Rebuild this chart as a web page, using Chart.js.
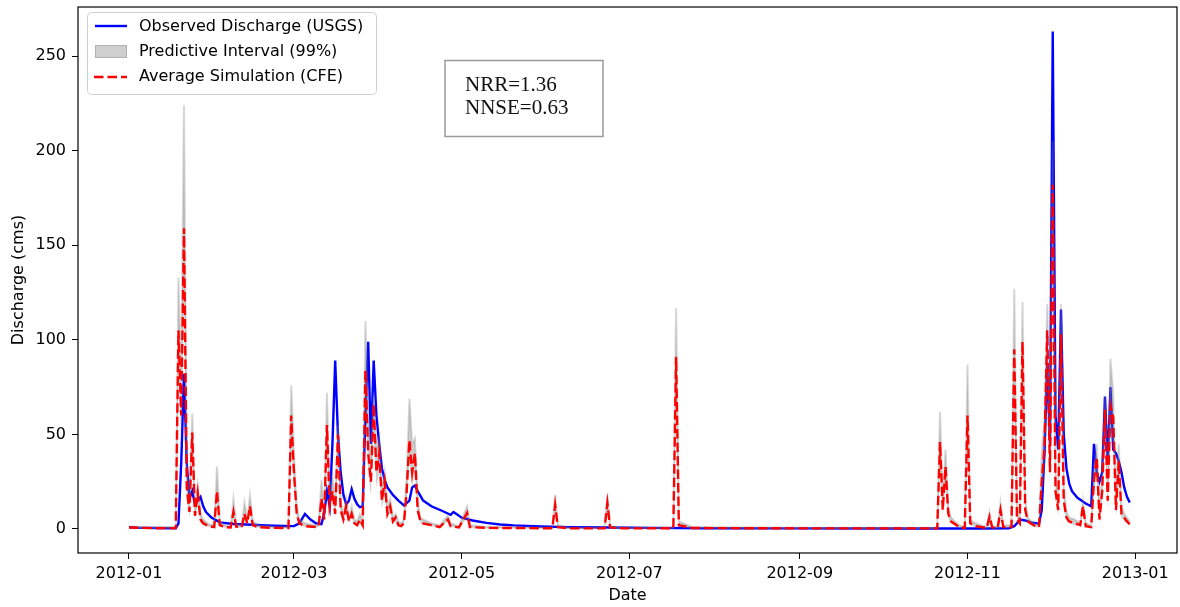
<!DOCTYPE html>
<html lang="en">
<head>
<meta charset="UTF-8">
<title>Observed vs simulated discharge 2012</title>
<script src="https://cdn.jsdelivr.net/npm/chart.js"></script>
<style>
  html, body { margin: 0; padding: 0; background: #fff; }
  #wrap { position: relative; width: 1180px; height: 607px; }
</style>
</head>
<body>
<div id="wrap"><canvas id="chart" width="1180" height="607"></canvas></div>
<script>
  // x values are days since 2012-01-01
  const tickDays = [0, 60, 121, 182, 244, 305, 366];
  const tickLabels = ['2012-01', '2012-03', '2012-05', '2012-07', '2012-09', '2012-11', '2013-01'];
  const yTicks = [0, 50, 100, 150, 200, 250];

  // observed discharge (USGS), cms
  const obsDays = [0, 3, 10, 17, 18, 19, 20, 21, 22, 23, 24, 25, 26, 27, 28, 30, 33, 38, 45, 50, 56, 60, 62, 64, 66, 68, 70, 71, 72, 73, 74, 75, 76, 77, 78, 79, 80, 81, 82, 83, 84, 85, 86, 87, 88, 89, 90, 91, 92, 93, 94, 96, 98, 100, 102, 103, 104, 105, 107, 110, 114, 117, 118, 119, 121, 125, 130, 135, 140, 150, 160, 175, 190, 210, 240, 280, 310, 320, 322, 323, 324, 326, 328, 331, 332, 333, 334, 335, 336, 337, 338, 339, 340, 341, 342, 343, 345, 348, 350, 351, 352, 353, 354, 355, 356, 357, 358, 359, 360, 361, 362, 363, 364];
  const obsVals = [1.0, 0.7, 0.5, 0.4, 3, 35, 82, 35, 16, 20, 13, 15, 17, 12, 9, 6, 3.5, 2.6, 2.2, 1.9, 1.6, 1.5, 3, 8, 5, 3, 2.5, 8, 20, 12, 45, 89, 50, 30, 18, 13, 15, 21, 16, 13, 11.5, 12, 60, 99, 45, 89, 60, 45, 32, 26, 22, 18, 15, 12.5, 15, 22, 23, 20, 15, 12, 9.5, 7.5, 9, 8, 6, 4.5, 3.2, 2.4, 1.9, 1.3, 1.0, 0.8, 0.6, 0.4, 0.3, 0.25, 0.25, 0.3, 1.5, 3, 5, 4.5, 3.5, 2.8, 10, 40, 88, 45, 263, 60, 42, 116, 50, 32, 24, 20, 16.5, 13.5, 12, 45, 30, 25, 30, 70, 35, 75, 42, 40, 36, 30, 22, 17, 14];

  // average simulation (CFE) and 99% predictive interval
  const simDays = [0, 5, 10, 17, 18, 19, 20, 21, 22, 23, 24, 25, 26, 27, 29, 31, 32, 33, 35, 37, 38, 39, 41, 42, 43, 44, 45, 47, 52, 58, 59, 60, 61, 62, 64, 68, 69, 70, 71, 72, 73, 74, 75, 76, 77, 78, 79, 80, 81, 82, 83, 84, 85, 86, 87, 88, 89, 90, 91, 92, 93, 94, 95, 96, 97, 98, 99, 100, 101, 102, 103, 104, 105, 106, 107, 110, 113, 116, 117, 120, 123, 124, 130, 150, 154, 155, 156, 160, 173, 174, 175, 180, 198, 199, 200, 205, 250, 294, 295, 296, 297, 298, 299, 302, 304, 305, 306, 308, 312, 313, 314, 316, 317, 318, 321, 322, 323, 324, 325, 326, 327, 329, 331, 332, 333, 334, 335, 336, 337, 338, 339, 340, 341, 342, 344, 346, 347, 348, 350, 351, 352, 353, 354, 355, 356, 357, 358, 359, 360, 361, 362, 363, 364];
  const simMean = [0.8, 0.6, 0.4, 0.5, 105, 60, 159, 22, 9, 51, 7, 19, 5, 3, 1.5, 1, 20, 2, 1, 0.8, 9, 1.2, 0.9, 8, 3, 12, 2, 1, 0.6, 0.5, 60, 30, 8, 3, 1.5, 1, 1.5, 16, 5, 55, 12, 20, 8, 50, 10, 5, 12, 4, 8, 3, 2, 5, 2, 84, 40, 25, 66, 30, 40, 15, 25, 8, 12, 4, 6, 2, 1.5, 3, 20, 47, 30, 40, 10, 4, 3, 2, 1, 5, 1.5, 0.8, 8.5, 1, 0.6, 0.4, 0.4, 12.7, 1, 0.3, 0.3, 13.7, 0.8, 0.3, 0.4, 91, 2, 0.5, 0.3, 0.3, 46, 10, 33, 8, 4, 1, 0.5, 60, 3, 1.5, 0.5, 6.5, 0.8, 0.6, 10, 1, 1, 95, 5, 3, 99, 10, 4, 2, 1, 25, 43, 105, 30, 182, 20, 10, 103, 15, 6, 4, 3, 2, 12, 1.5, 1, 26, 38, 5, 20, 63, 15, 65, 59, 10, 36, 8, 6, 4, 2.5];
  const simLo = [0.5, 0.3, 0.2, 0.3, 80, 45, 120, 15, 6, 40, 5, 14, 3, 2, 1, 0.6, 15, 1, 0.6, 0.5, 6, 0.8, 0.5, 6, 2, 9, 1, 0.6, 0.3, 0.3, 45, 22, 5, 2, 1, 0.6, 1, 12, 3, 42, 9, 15, 6, 38, 7, 3, 9, 3, 6, 2, 1.5, 4, 1.5, 65, 30, 18, 50, 22, 30, 11, 18, 6, 9, 3, 4, 1.5, 1, 2, 15, 36, 22, 30, 7, 3, 2, 1.5, 0.6, 4, 1, 0.5, 6, 0.6, 0.3, 0.2, 0.2, 9, 0.6, 0.1, 0.1, 10, 0.5, 0.1, 0.2, 70, 1, 0.3, 0.1, 0.1, 35, 7, 25, 6, 3, 0.6, 0.3, 45, 2, 1, 0.3, 5, 0.5, 0.3, 7, 0.6, 0.6, 72, 3, 2, 75, 7, 3, 1.5, 0.6, 18, 32, 80, 22, 140, 15, 7, 80, 11, 4, 3, 2, 1.5, 9, 1, 0.6, 20, 28, 3, 15, 48, 11, 50, 45, 7, 27, 6, 4, 3, 1.5];
  const simHi = [1.3, 1.0, 0.8, 1.2, 133, 80, 224, 35, 14, 61, 10, 23, 8, 5, 2.5, 2, 33, 4, 2, 1.5, 16, 2.5, 2, 14, 5, 18, 4, 2, 1.2, 1, 76, 40, 12, 5, 3, 2, 3, 26, 8, 72, 18, 28, 12, 55, 14, 8, 16, 6, 12, 5, 4, 8, 4, 110, 60, 35, 70, 42, 48, 20, 30, 12, 16, 6, 8, 4, 3, 5, 28, 69, 45, 48, 15, 6, 5, 3, 2, 7, 3, 1.5, 12, 2, 1.2, 0.8, 0.8, 18, 2, 0.6, 0.6, 18, 1.5, 0.6, 0.8, 117, 4, 1, 0.6, 0.6, 62, 15, 42, 12, 6, 2, 1, 87, 5, 3, 1, 9, 1.5, 1.2, 14, 2, 2, 127, 8, 5, 120, 15, 6, 3, 2, 40, 58, 119, 45, 205, 30, 15, 119, 22, 9, 6, 5, 3, 15, 3, 2, 32, 45, 8, 28, 70, 22, 90, 72, 15, 45, 12, 8, 6, 4];

  const toPts = (xs, ys) => xs.map((x, i) => ({ x: x, y: ys[i] }));

  Chart.defaults.font.family = '"DejaVu Sans", sans-serif';
  Chart.defaults.font.size = 16;
  Chart.defaults.color = '#000';

  const BLUE = '#0000ff';
  const RED = '#ff0000';
  const BAND = 'rgba(128,128,128,0.38)';
  const DASH = [9.5, 4];

  // frame, legend box and the metrics box, drawn on top of the plot
  const decorations = {
    id: 'decorations',
    afterDraw(chart) {
      const { ctx, chartArea: a } = chart;
      ctx.save();
      ctx.strokeStyle = '#000';
      ctx.lineWidth = 1.2;
      ctx.strokeRect(a.left, a.top, a.right - a.left, a.bottom - a.top);

      // legend
      ctx.beginPath();
      ctx.roundRect(87.5, 12.5, 289, 82, 4);
      ctx.fillStyle = 'rgba(255,255,255,0.8)';
      ctx.fill();
      ctx.strokeStyle = '#d0d0d0';
      ctx.lineWidth = 1;
      ctx.stroke();

      ctx.lineWidth = 2.4;
      ctx.strokeStyle = BLUE;
      ctx.beginPath(); ctx.moveTo(95, 26); ctx.lineTo(127, 26); ctx.stroke();

      ctx.fillStyle = BAND;
      ctx.fillRect(95, 45, 32, 13);
      ctx.strokeStyle = BAND;
      ctx.lineWidth = 1;
      ctx.strokeRect(95.5, 45.5, 31, 12);

      ctx.lineWidth = 2.4;
      ctx.strokeStyle = RED;
      ctx.setLineDash(DASH);
      ctx.beginPath(); ctx.moveTo(94, 77); ctx.lineTo(127, 77); ctx.stroke();
      ctx.setLineDash([]);

      ctx.fillStyle = '#000';
      ctx.font = '16px "DejaVu Sans"';
      ctx.textBaseline = 'middle';
      ctx.fillText('Observed Discharge (USGS)', 139, 27);
      ctx.fillText('Predictive Interval (99%)', 139, 52);
      ctx.fillText('Average Simulation (CFE)', 139, 77);

      // metrics box
      ctx.strokeStyle = '#9a9a9a';
      ctx.lineWidth = 1.5;
      ctx.strokeRect(445, 60.5, 158, 76);
      ctx.font = '21px "Liberation Serif"';
      ctx.textBaseline = 'alphabetic';
      ctx.fillStyle = '#111';
      ctx.fillText('NRR=1.36', 465, 91);
      ctx.fillText('NNSE=0.63', 465, 114);
      ctx.restore();
    }
  };

  new Chart(document.getElementById('chart'), {
    type: 'line',
    data: {
      datasets: [
        {
          label: 'Average Simulation (CFE)',
          data: toPts(simDays, simMean),
          borderColor: RED,
          borderWidth: 2.4,
          borderDash: DASH,
          pointRadius: 0,
          fill: false
        },
        {
          label: 'Predictive Interval (99%)',
          data: toPts(simDays, simHi),
          borderColor: 'rgba(128,128,128,0.3)',
          borderWidth: 2,
          backgroundColor: BAND,
          pointRadius: 0,
          fill: '+1'
        },
        {
          label: 'lower',
          data: toPts(simDays, simLo),
          borderColor: 'rgba(0,0,0,0)',
          borderWidth: 0,
          pointRadius: 0,
          fill: false
        },
        {
          label: 'Observed Discharge (USGS)',
          data: toPts(obsDays, obsVals),
          borderColor: BLUE,
          borderWidth: 2.4,
          pointRadius: 0,
          fill: false
        }
      ]
    },
    options: {
      responsive: false,
      animation: false,
      devicePixelRatio: 1,
      layout: { padding: { left: 0, right: 3, top: 7, bottom: 0 } },
      plugins: { legend: { display: false }, tooltip: { enabled: false } },
      elements: { line: { tension: 0 } },
      scales: {
        x: {
          type: 'linear',
          min: -18.55,
          max: 381.2,
          afterBuildTicks: s => { s.ticks = tickDays.map(v => ({ value: v })); },
          afterFit: s => { s.height = 54; s.paddingLeft = 0; s.paddingRight = 0; },
          ticks: {
            autoSkip: false,
            maxRotation: 0,
            padding: 5,
            callback: v => tickLabels[tickDays.indexOf(v)]
          },
          grid: { drawOnChartArea: false, drawTicks: true, tickLength: 6, color: '#000' },
          border: { display: false },
          title: { display: true, text: 'Date', padding: { top: 0, bottom: 2 } }
        },
        y: {
          min: -12.7,
          max: 276,
          afterBuildTicks: s => { s.ticks = yTicks.map(v => ({ value: v })); },
          afterFit: s => { s.width = 78; s.paddingTop = 0; s.paddingBottom = 0; },
          ticks: { padding: 6 },
          grid: { drawOnChartArea: false, drawTicks: true, tickLength: 6, color: '#000' },
          border: { display: false },
          title: { display: true, text: 'Discharge (cms)', padding: { top: 9, bottom: 0 } }
        }
      }
    },
    plugins: [decorations]
  });
</script>
</body>
</html>
